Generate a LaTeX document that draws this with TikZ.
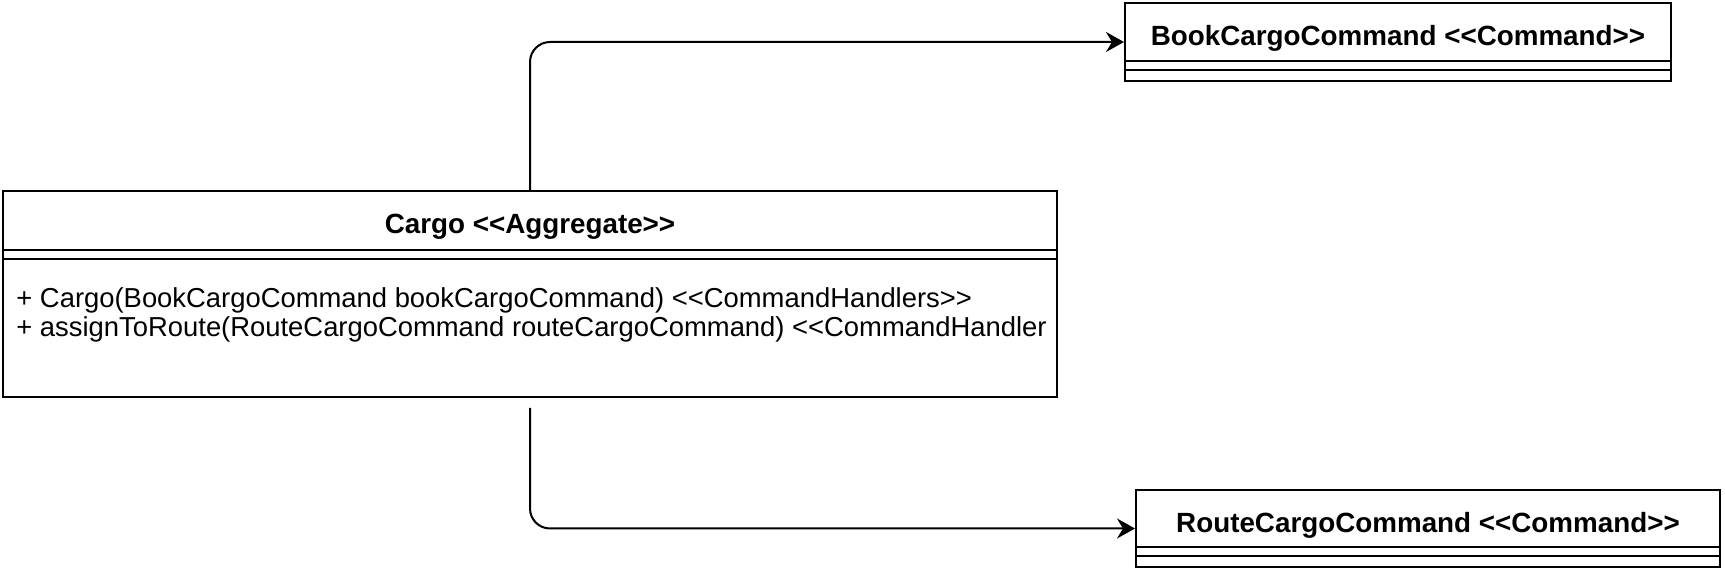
\documentclass[tikz,border=0pt]{standalone}
\usepackage{fontspec}
\setmainfont{Liberation Sans}
\usetikzlibrary{arrows.meta, positioning}

\newcommand\stereo[1]{<\kern0pt<#1>\kern0pt>}

\tikzset{
  classbox/.style={draw, line width=1pt, inner sep=0pt},
  titletext/.style={inner sep=0pt, text depth=0pt, font=\fontsize{13.9}{14.5}\selectfont\bfseries},
  optext/.style={inner sep=0pt, align=left, font=\fontsize{13.7}{14.5}\selectfont},
  headline/.style={line width=1.2pt},
  sepline/.style={line width=0.6pt},
  assoc/.style={line width=1pt, rounded corners=10pt, -{Stealth[length=9pt, width=10pt, inset=3pt]}}
}

\begin{document}
\begin{tikzpicture}[x=0.5pt, y=-0.5pt]

  \useasboundingbox (0,0) rectangle (1725,571);

  % aggregate
  \node[classbox, minimum width=527pt, minimum height=103pt] (cargo) at (530,294) {};
  \node[titletext, below=12pt of cargo.north] (cargotitle) {Cargo \stereo{Aggregate}};
  \draw[headline] ([yshift=-30pt]cargo.north west) -- ([yshift=-30pt]cargo.north east);
  \draw[sepline] ([yshift=-34.5pt]cargo.north west) -- ([yshift=-34.5pt]cargo.north east);
  \node[optext, anchor=west] (cargoops) at (16,315)
    {+ Cargo(BookCargoCommand bookCargoCommand) \stereo{CommandHandlers}\\
     + assignToRoute(RouteCargoCommand routeCargoCommand) <\kern0pt<CommandHandler};

  % commands
  \node[classbox, minimum width=273pt, minimum height=39pt] (book) at (1398,42) {};
  \node[titletext, below=11.5pt of book.north] (booktitle) {BookCargoCommand \stereo{Command}};
  \draw[headline] ([yshift=-29.5pt]book.north west) -- ([yshift=-29.5pt]book.north east);
  \draw[sepline] ([yshift=-34pt]book.north west) -- ([yshift=-34pt]book.north east);

  \node[classbox, minimum width=292pt, minimum height=38.5pt] (route) at (1428,528.5) {};
  \node[titletext, below=11.5pt of route.north] (routetitle) {RouteCargoCommand \stereo{Command}};
  \draw[headline] ([yshift=-29pt]route.north west) -- ([yshift=-29pt]route.north east);
  \draw[sepline] ([yshift=-33.5pt]route.north west) -- ([yshift=-33.5pt]route.north east);

  % connectors
  \draw[assoc] (cargo.north) |- (book.west);
  \draw[assoc] ([yshift=-5pt]cargo.south) |- (route.west);
\end{tikzpicture}
\end{document}
